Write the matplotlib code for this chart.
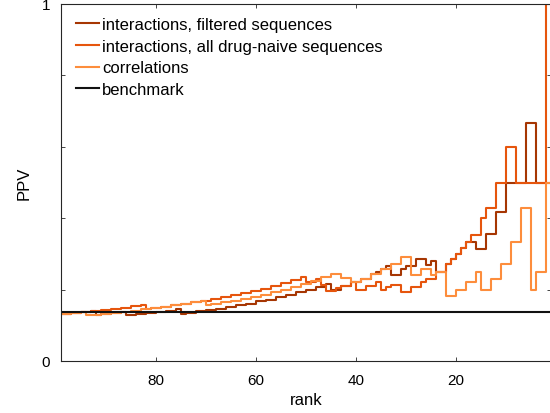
import matplotlib
matplotlib.use("Agg")
import matplotlib.pyplot as plt

plt.rcParams["font.family"] = ["Liberation Sans", "DejaVu Sans"]

# PPV at each listed rank; the value at rank r covers (previous rank, r]
filt_rank = [1, 4, 6, 10, 12, 14, 16, 18, 19, 20, 21, 22, 24, 25, 26, 28, 30, 31,
             33, 34, 35, 36, 37, 39, 41, 43, 45, 46, 48, 50, 52, 54, 56, 58, 60,
             62, 64, 66, 68, 70, 72, 74, 75, 76, 78, 80, 82, 84, 86, 87, 89, 91,
             92, 93, 95, 97, 99]
filt_ppv = [0.5, 0.5, 0.667, 0.5, 0.417, 0.357, 0.313, 0.333, 0.316, 0.300, 0.286,
            0.273, 0.250, 0.280, 0.269, 0.286, 0.267, 0.258, 0.242, 0.265, 0.257,
            0.250, 0.243, 0.231, 0.220, 0.209, 0.200, 0.217, 0.208, 0.200, 0.192,
            0.185, 0.179, 0.172, 0.167, 0.161, 0.156, 0.152, 0.147, 0.143, 0.139,
            0.135, 0.133, 0.145, 0.141, 0.138, 0.134, 0.131, 0.128, 0.138, 0.135,
            0.132, 0.130, 0.140, 0.137, 0.134, 0.131]

all_rank = [1, 2, 8, 10, 12, 14, 15, 17, 18, 19, 20, 21, 22, 24, 26, 27, 29, 31,
            33, 34, 35, 36, 38, 40, 41, 43, 44, 46, 47, 48, 50, 51, 53, 55, 57,
            59, 61, 63, 65, 67, 69, 71, 73, 75, 77, 79, 81, 82, 83, 85, 87, 89,
            91, 93, 95, 97, 99]
all_ppv = [1.0, 1.0, 0.5, 0.6, 0.5, 0.429, 0.4, 0.353, 0.333, 0.316, 0.300, 0.286,
           0.273, 0.250, 0.231, 0.222, 0.207, 0.194, 0.212, 0.206, 0.200, 0.222,
           0.211, 0.200, 0.220, 0.209, 0.205, 0.196, 0.213, 0.229, 0.220, 0.235,
           0.226, 0.218, 0.211, 0.203, 0.197, 0.190, 0.185, 0.179, 0.174, 0.169,
           0.164, 0.160, 0.156, 0.152, 0.148, 0.146, 0.157, 0.153, 0.149, 0.146,
           0.143, 0.140, 0.137, 0.134, 0.131]

corr_rank = [1, 2, 4, 5, 7, 9, 11, 13, 15, 16, 18, 20, 22, 24, 25, 27, 29, 31, 33,
             35, 37, 39, 41, 43, 45, 47, 49, 51, 53, 55, 57, 59, 61, 63, 65, 67,
             69, 70, 71, 73, 75, 77, 79, 81, 83, 85, 87, 89, 91, 93, 94, 95, 97, 99]
corr_ppv = [0.5, 0.5, 0.25, 0.2, 0.429, 0.333, 0.273, 0.231, 0.2, 0.25, 0.222,
            0.2, 0.182, 0.25, 0.24, 0.259, 0.241, 0.290, 0.273, 0.257, 0.243,
            0.231, 0.220, 0.233, 0.244, 0.234, 0.224, 0.216, 0.208, 0.200, 0.193,
            0.186, 0.180, 0.175, 0.169, 0.164, 0.159, 0.157, 0.169, 0.164, 0.160,
            0.156, 0.152, 0.148, 0.145, 0.141, 0.138, 0.135, 0.132, 0.129, 0.128,
            0.137, 0.134, 0.131]

benchmark = 0.136

fig = plt.figure(figsize=(5.5, 4.14), dpi=100)
ax = fig.add_axes([61 / 550, 52 / 414, 490 / 550, 357 / 414])

ax.step(filt_rank, filt_ppv, where="pre", color="#a63603", lw=1.5,
        label="interactions, filtered sequences")
ax.step(all_rank, all_ppv, where="pre", color="#e6550d", lw=1.5,
        label="interactions, all drug-naive sequences")
ax.step(corr_rank, corr_ppv, where="pre", color="#fd8d3c", lw=1.5,
        label="correlations")
ax.axhline(benchmark, color="#111111", lw=1.5, label="benchmark")

ax.set_xlim(99, 1)
ax.set_ylim(0, 1)
ax.set_xticks([80, 60, 40, 20])
ax.set_yticks([0, 0.2, 0.4, 0.6, 0.8, 1])
ax.set_yticklabels(["0", "", "", "", "", "1"])
ax.tick_params(direction="in", length=3, width=0.6, color="#262626",
               labelsize=11, top=True, right=True)
ax.tick_params(axis="x", pad=9)
ax.tick_params(axis="y", pad=8)
for s in ax.spines.values():
    s.set_color("#262626")
    s.set_linewidth(0.8)

ax.set_xlabel("rank", fontsize=12, labelpad=3)
ax.set_ylabel("PPV", fontsize=12, labelpad=7)

ax.legend(loc="upper left", bbox_to_anchor=(0.018, 0.982), borderaxespad=0,
          frameon=False, fontsize=12, handlelength=1.35, handletextpad=0.2,
          labelspacing=0.4)

fig.savefig("out.png", dpi=100)
